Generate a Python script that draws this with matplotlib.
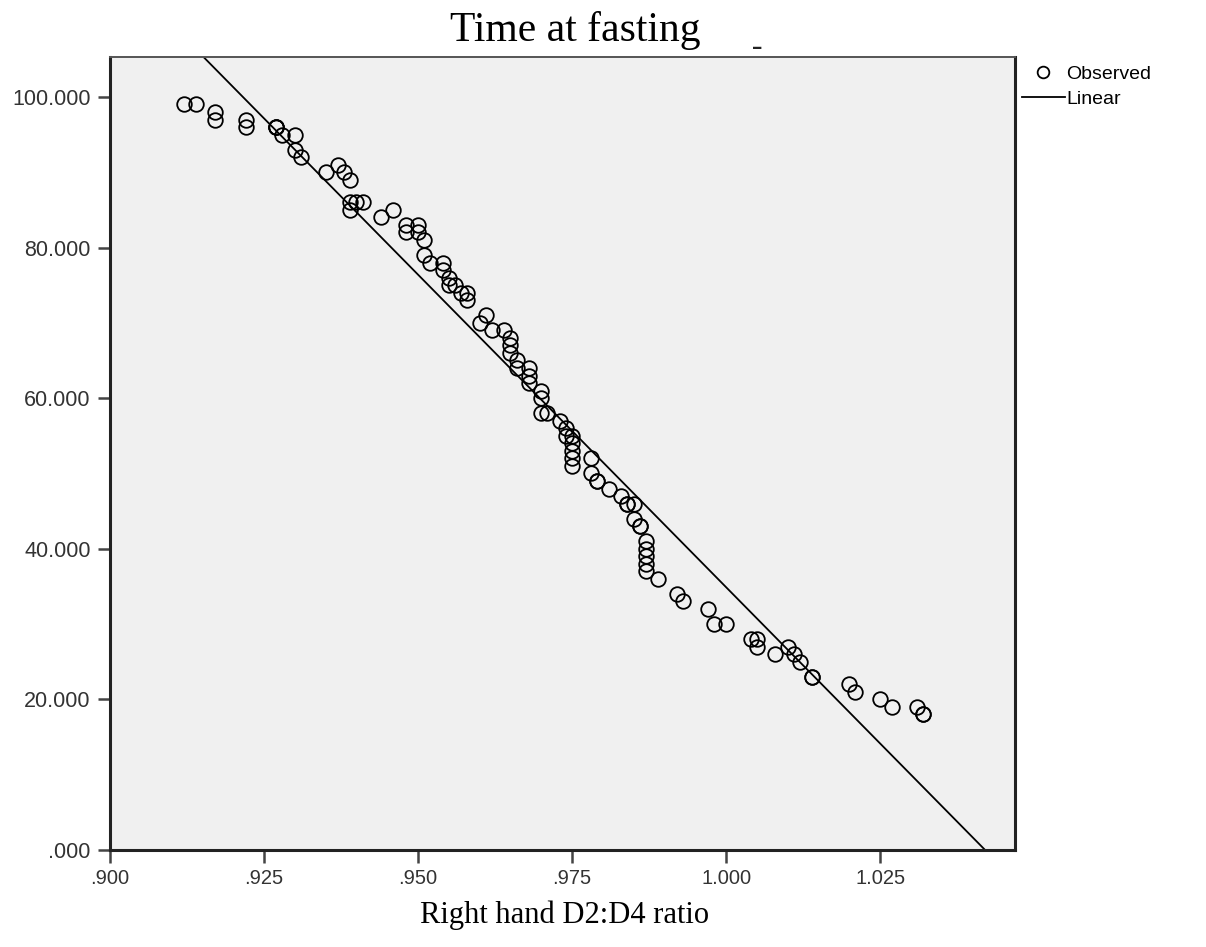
import matplotlib
matplotlib.use("Agg")
import matplotlib.pyplot as plt
from matplotlib.ticker import FuncFormatter
import numpy as np

# ---- data ----
ratio = [0.912, 0.914, 0.917, 0.917, 0.922, 0.922, 0.927, 0.927, 0.927, 0.928,
         0.930, 0.930, 0.931, 0.935, 0.937, 0.938, 0.939, 0.939, 0.940, 0.941,
         0.939, 0.944, 0.946, 0.948, 0.948, 0.950, 0.950, 0.951, 0.951, 0.952,
         0.954, 0.954, 0.955, 0.955, 0.956, 0.957, 0.958, 0.958, 0.961, 0.960,
         0.962, 0.964, 0.965, 0.965, 0.965, 0.966, 0.966, 0.968, 0.968, 0.968,
         0.970, 0.970, 0.970, 0.971, 0.973, 0.974, 0.974, 0.975, 0.975, 0.975,
         0.975, 0.975, 0.978, 0.978, 0.979, 0.979, 0.981, 0.983, 0.984, 0.984,
         0.985, 0.985, 0.986, 0.986, 0.987, 0.987, 0.987, 0.987, 0.987, 0.989,
         0.992, 0.993, 0.997, 0.998, 1.000, 1.004, 1.005, 1.005, 1.008, 1.010,
         1.011, 1.012, 1.014, 1.014, 1.020, 1.021, 1.025, 1.027, 1.031, 1.032,
         1.032]
time_fasting = [99, 99, 98, 97, 97, 96, 96, 96, 96, 95,
                95, 93, 92, 90, 91, 90, 89, 86, 86, 86,
                85, 84, 85, 83, 82, 83, 82, 81, 79, 78,
                78, 77, 76, 75, 75, 74, 74, 73, 71, 70,
                69, 69, 68, 67, 66, 65, 64, 64, 63, 62,
                61, 60, 58, 58, 57, 56, 55, 55, 54, 53,
                52, 51, 52, 50, 49, 49, 48, 47, 46, 46,
                46, 44, 43, 43, 41, 40, 39, 38, 37, 36,
                34, 33, 32, 30, 30, 28, 28, 27, 26, 27,
                26, 25, 23, 23, 22, 21, 20, 19, 19, 18,
                18]
fit_intercept = 864.9
fit_slope = -830.0

x_ticks = [0.900, 0.925, 0.950, 0.975, 1.000, 1.025]
y_ticks = [0, 20, 40, 60, 80, 100]

title_text = "Time at fasting"
x_label = "Right hand D2:D4 ratio"
legend_labels = ["Observed", "Linear"]

# ---- figure ----
W, H = 1206, 947
fig = plt.figure(figsize=(W / 100, H / 100), dpi=100)
fig.patch.set_facecolor("white")
ax = fig.add_axes([110 / W, 1 - 850 / H, (1015 - 110) / W, (850 - 57) / H])
ax.set_facecolor("#F0F0F0")

ax.set_xlim(0.900, 1.0469)
ax.set_ylim(0, 105.3)

xs = np.array([0.85, 1.10])
ax.plot(xs, fit_intercept + fit_slope * xs, color="black", lw=1.3,
        label=legend_labels[1], zorder=2)
ax.plot(ratio, time_fasting, linestyle="none", marker="o", markersize=10.5,
        markerfacecolor="none", markeredgecolor="black", markeredgewidth=1.3,
        label=legend_labels[0], zorder=3)

def strip_zero(v, pos):
    s = f"{v:.3f}"
    if s.startswith("0."):
        s = s[1:]
    return s

ax.set_xticks(x_ticks)
ax.set_yticks(y_ticks)
ax.xaxis.set_major_formatter(FuncFormatter(strip_zero))
ax.yaxis.set_major_formatter(FuncFormatter(strip_zero))
ax.tick_params(direction="out", length=9, width=1.8, color="#444444",
               labelsize=14.5, labelcolor="#333333", pad=5)
ax.tick_params(axis="y", labelsize=15.5)
for lab in ax.get_xticklabels() + ax.get_yticklabels():
    lab.set_family("Liberation Sans")
for sp in ax.spines.values():
    sp.set_linewidth(2.2)
    sp.set_color("#222222")
ax.spines["top"].set_linewidth(1.4)
ax.spines["top"].set_color("#555555")

fig.text(575 / W, 1 - 30 / H, title_text, ha="center", va="center",
         fontsize=30, family="Liberation Serif")
fig.text(565 / W, 1 - 915 / H, x_label, ha="center", va="center",
         fontsize=22, family="Liberation Serif")
fig.text(757 / W, 1 - 40 / H, "_", ha="center", va="center",
         fontsize=12, fontweight="bold", color="#222222")

handles, labels = ax.get_legend_handles_labels()
leg = ax.legend(handles[::-1], labels[::-1], loc="upper left",
                bbox_to_anchor=(0.999, 0.999), frameon=False,
                prop={"family": "Liberation Sans", "size": 14},
                handlelength=2.2, handletextpad=0.1, labelspacing=0.35,
                markerscale=0.8, borderaxespad=0.0)

fig.savefig("out.png", dpi=100, facecolor="white")
